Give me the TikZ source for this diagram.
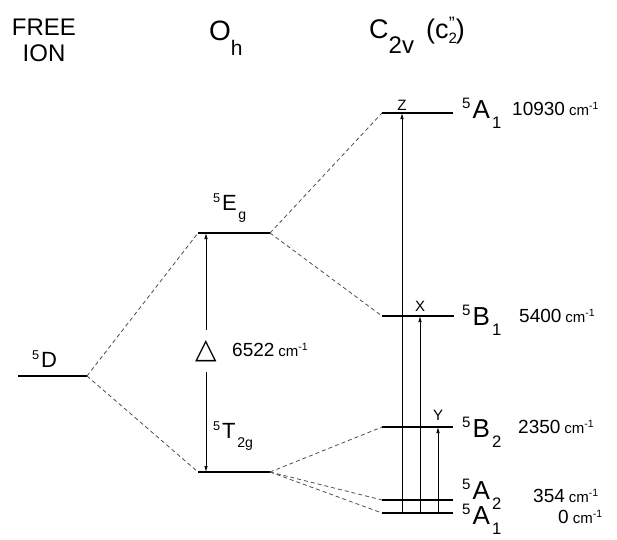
\documentclass[tikz,border=0pt]{standalone}
\usepackage{fontspec}
\setmainfont{Liberation Sans}
\newfontfamily\symfont{DejaVu Sans}
\usepackage{graphicx}
\usetikzlibrary{arrows.meta}

\newcommand{\term}[3]{\raisebox{.36em}{\scalebox{.58}{#1}}\hspace{.08em}#2\hspace{.08em}\raisebox{-.42em}{\scalebox{.64}{#3}}}
\newcommand{\wavenum}[1]{#1\hspace{4pt}{\fontsize{15}{15}\selectfont cm\textsuperscript{-1}}}

\begin{document}
\begin{tikzpicture}[x=1pt, y=-1pt,
  level/.style={line width=1.8pt},
  corr/.style={dash pattern=on 4pt off 3pt, line width=0.8pt, black!70},
  trans/.style={-{Latex[length=6pt,width=3.5pt]}, line width=0.7pt},
  head/.style={font=\fontsize{24}{26}\selectfont, inner sep=0pt},
  sym/.style={font=\fontsize{22}{22}\selectfont, inner sep=0pt, anchor=base west},
  symc/.style={font=\fontsize{26}{26}\selectfont, inner sep=0pt, anchor=base west},
  energy/.style={font=\fontsize{19}{19}\selectfont, inner sep=0pt, anchor=base west},
  axis/.style={font=\fontsize{15}{15}\selectfont, inner sep=0pt}]
\useasboundingbox (0,0) rectangle (617,539);

% Column headings
\node[head, align=center] (free) at (44,40) {FREE\\ION};
\node[head, anchor=base west] (oh) at (209,40) {{\fontsize{28}{28}\selectfont O}\raisebox{-15pt}{\fontsize{21}{21}\selectfont h}};
\node[head, anchor=base west] (ctwov) at (369,38) {{\fontsize{27}{27}\selectfont C}\raisebox{-15pt}{\fontsize{24}{24}\selectfont 2v}\hspace{12pt}{\fontsize{27}{27}\selectfont (c\raisebox{-5pt}{\fontsize{15}{15}\selectfont 2}\hspace{-8pt}\raisebox{9pt}{\fontsize{18}{18}\selectfont"}\hspace{1pt})}};

% Free ion level
\coordinate (DL) at (18,376);
\coordinate (DR) at (87,376);
\draw[level] (DL) -- (DR);
\node[sym] (lD) at (32,367) {\term{5}{D}{}};

% Octahedral levels
\coordinate (EgL) at (198,233);
\coordinate (EgR) at (270,233);
\coordinate (TL) at (198,472);
\coordinate (TR) at (270,472);
\draw[level] (EgL) -- (EgR);
\draw[level] (TL) -- (TR);
\node[sym] (lEg) at (213,210) {\term{5}{E}{g}};
\node[sym] (lT) at (213,438) {\term{5}{T}{2g}};

% Splitting Delta
\node[font=\symfont\fontsize{28}{28}\selectfont, minimum height=42pt, inner sep=0pt] (delta) at (206,351) {△};
\node[energy] (eDelta) at (232,356) {\wavenum{6522}};
\draw[trans] (delta.north) -- (delta.north |- EgL);
\draw[trans] (delta.south) -- (delta.south |- TL);

% C2v levels
\coordinate (A1tL) at (382,113);
\coordinate (A1tR) at (453,113);
\coordinate (B1L) at (382,316);
\coordinate (B1R) at (454,316);
\coordinate (B2L) at (382,427);
\coordinate (B2R) at (453,427);
\coordinate (A2L) at (382,500);
\coordinate (A2R) at (453,500);
\coordinate (A1L) at (382,513);
\coordinate (A1R) at (453,513);
\draw[level] (A1tL) -- (A1tR);
\draw[level] (B1L) -- (B1R);
\draw[level] (B2L) -- (B2R);
\draw[level] (A2L) -- (A2R);
\draw[level] (A1L) -- (A1R);

% C2v labels and energies
\node[symc] (lA1t) at (462,118) {\term{5}{A}{1}};
\node[symc] (lB1) at (462,325) {\term{5}{B}{1}};
\node[symc] (lB2) at (462,437) {\term{5}{B}{2}};
\node[symc] (lA2) at (462,499) {\term{5}{A}{2}};
\node[symc] (lA1) at (462,524) {\term{5}{A}{1}};
\node[energy] (eA1t) at (512,115) {\wavenum{10930}};
\node[energy] (eB1) at (519,322) {\wavenum{5400}};
\node[energy] (eB2) at (518,433) {\wavenum{2350}};
\node[energy] (eA2) at (533,502) {\wavenum{354}};
\node[energy] (eA1) at (558,523) {\wavenum{0}};

% Transitions
\node[axis] (Z) at (402,105) {Z};
\node[axis] (X) at (420,306) {X};
\node[axis] (Y) at (438,415) {Y};
\draw[trans] (Z |- A1L) -- (Z |- A1tL);
\draw[trans] (X |- A1L) -- (X |- B1L);
\draw[trans] (Y |- A1L) -- (Y |- B2L);

% Correlation lines
\draw[corr] (DR) -- (EgL);
\draw[corr] (DR) -- (TL);
\draw[corr] (EgR) -- (A1tL);
\draw[corr] (EgR) -- (B1L);
\draw[corr] (TR) -- (B2L);
\draw[corr] (TR) -- (A2L);
\draw[corr] (TR) -- (A1L);
\end{tikzpicture}
\end{document}
